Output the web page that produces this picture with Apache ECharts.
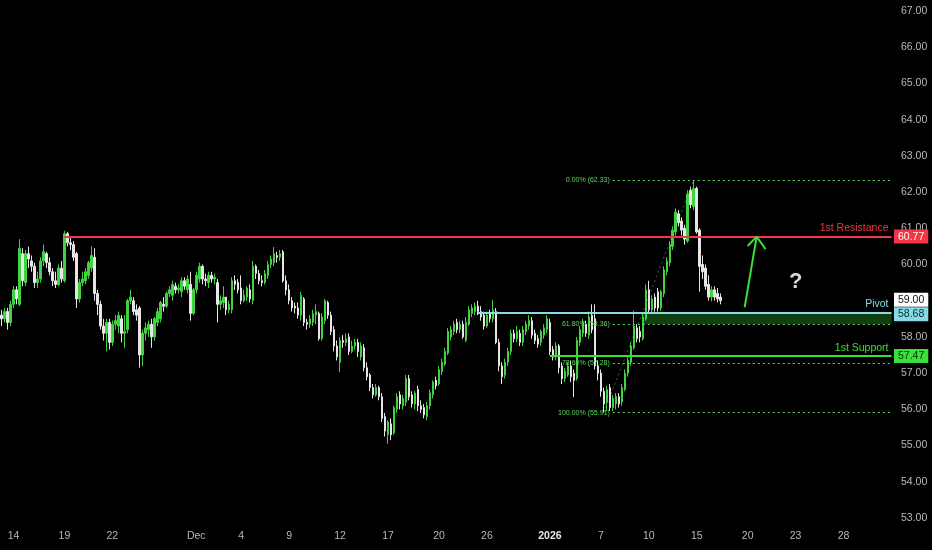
<!DOCTYPE html>
<html><head><meta charset="utf-8">
<script src="https://cdn.jsdelivr.net/npm/echarts@6/dist/echarts.min.js"></script>
<style>html,body{margin:0;padding:0;background:#000;}#c{width:932px;height:550px;}</style>
</head><body><div id="c"></div>
<script>
// 4H candles (open, close, low, high)
const openP = [58.6,58.5,58.7,58.4,58.9,59.3,58.9,60.3,59.5,60.3,60.1,59.95,59.5,59.6,60.1,60.3,60.05,59.8,59.55,59.45,59.9,59.55,60.85,60.6,60.55,60.3,59.05,59.5,59.55,59.7,59.9,60.2,59.2,58.9,58.3,58.1,58.4,57.85,58.35,58.3,58.5,58.1,58.2,59.0,59.0,58.75,58.8,57.5,58.1,58.2,58.35,58.0,58.4,58.5,58.9,58.85,59.2,59.15,59.4,59.3,59.25,59.55,59.3,59.45,58.65,59.3,59.6,59.95,59.6,59.5,59.7,59.6,59.5,58.9,58.95,59.1,58.75,58.75,59.55,59.5,59.35,59.0,59.1,59.3,59.0,59.95,59.75,59.55,59.5,59.7,60.0,60.05,60.25,60.2,60.35,59.55,59.3,59.0,58.85,58.8,58.6,59.05,58.4,58.35,58.4,58.6,58.65,57.95,58.45,58.95,58.6,58.2,57.75,57.3,57.9,57.85,58.0,57.6,57.75,57.85,57.45,57.7,57.15,56.95,56.6,56.4,56.6,56.35,55.8,55.3,55.6,55.35,56.0,56.4,56.1,56.2,56.85,56.4,56.15,56.55,56.1,56.05,55.8,56.1,56.4,56.8,56.7,57.05,57.25,57.55,58.0,58.15,58.4,58.2,58.35,57.9,58.35,58.65,58.7,58.85,58.7,58.6,58.3,58.65,58.5,58.7,57.85,57.2,56.95,57.3,57.6,58.1,57.95,58.1,57.85,58.15,58.3,58.45,58.1,57.95,57.85,58.05,58.2,58.4,57.65,57.45,57.75,57.2,56.85,56.95,57.2,57.0,56.85,57.85,58.1,58.35,58.05,58.6,58.5,57.2,57.0,56.5,56.2,56.6,56.05,56.15,56.35,56.2,56.55,57.0,57.3,57.7,58.25,58.15,57.95,58.5,59.3,58.75,59.1,59.25,58.8,59.2,59.8,60.05,60.5,60.9,61.4,61.2,61.0,60.65,62.05,61.6,62.1,60.95,60.0,59.9,59.45,59.1,59.3,59.2,59.1];
const closeP = [58.5,58.7,58.4,58.9,59.3,59.05,60.45,59.55,60.3,60.15,59.95,59.5,59.6,60.1,60.35,60.05,59.8,59.55,59.45,59.9,59.6,60.85,60.6,60.55,60.2,59.05,59.5,59.6,59.8,60.05,60.25,59.2,58.9,58.3,58.1,58.4,57.85,58.35,58.45,58.6,58.1,58.15,59.0,59.1,58.7,58.6,57.5,58.1,58.25,58.35,58.0,58.5,58.7,58.95,58.85,59.2,59.3,59.45,59.3,59.35,59.55,59.4,59.6,58.65,59.3,59.7,59.95,59.6,59.55,59.7,59.6,59.65,58.9,59.0,59.1,58.75,58.9,59.55,59.45,59.3,59.0,59.15,59.35,59.05,59.95,59.75,59.55,59.5,59.75,60.0,60.15,60.3,60.2,60.3,59.55,59.3,59.0,58.8,58.8,58.6,59.15,58.4,58.35,58.5,58.65,58.7,57.95,58.55,59.0,58.6,58.15,57.75,57.45,57.9,57.85,57.95,57.6,57.75,57.85,57.6,57.75,57.15,56.9,56.6,56.4,56.6,56.35,55.75,55.4,55.65,55.3,56.05,56.35,56.15,56.3,56.85,56.35,56.15,56.45,56.1,56.0,55.85,56.1,56.45,56.75,56.65,57.1,57.3,57.6,58.15,58.2,58.35,58.2,58.35,58.0,58.4,58.75,58.8,58.85,58.7,58.55,58.3,58.6,58.5,58.75,57.85,57.2,56.9,57.3,57.6,58.1,57.95,58.15,57.85,58.2,58.35,58.45,58.05,57.9,57.8,58.15,58.25,58.5,57.6,57.45,57.75,57.15,56.85,57.05,57.2,56.9,56.8,57.9,58.2,58.4,58.1,58.55,58.2,57.2,57.0,56.5,56.15,56.55,56.05,56.3,56.35,56.15,56.6,57.0,57.35,57.75,58.3,57.95,58.0,58.55,59.3,58.75,59.05,58.8,58.8,59.25,59.85,60.1,60.55,60.95,61.45,61.15,60.95,60.7,61.95,61.65,62.1,60.9,59.95,59.8,59.4,59.1,59.3,59.1,59.05,59.0];
const lowP = [58.3,58.4,58.2,58.3,58.8,58.9,58.85,59.4,59.4,59.9,59.8,59.35,59.35,59.5,59.95,59.9,59.7,59.4,59.35,59.4,59.5,59.5,60.5,60.4,60.1,58.8,58.95,59.4,59.45,59.6,59.8,59.0,58.6,58.2,57.9,57.6,57.65,57.75,58.2,58.1,57.85,57.7,58.1,58.9,58.6,58.45,57.15,57.2,57.9,58.0,57.7,57.9,58.3,58.4,58.7,58.8,59.1,59.0,59.2,59.2,59.1,59.3,59.2,58.45,58.6,59.2,59.5,59.45,59.4,59.35,59.5,59.45,58.4,58.75,58.8,58.6,58.65,58.65,59.3,59.2,58.9,58.95,59.0,58.95,58.9,59.6,59.45,59.4,59.45,59.6,59.9,59.95,60.05,60.1,59.5,59.15,58.9,58.7,58.65,58.5,58.45,58.3,58.2,58.25,58.3,58.35,57.9,57.9,58.35,58.5,58.05,57.6,57.35,57.03,57.7,57.75,57.5,57.55,57.65,57.45,57.35,57.05,56.8,56.5,56.3,56.35,56.25,55.65,55.25,55.05,55.15,55.3,55.9,56.0,56.0,56.1,56.25,56.05,56.0,55.95,55.9,55.75,55.7,56.0,56.3,56.55,56.65,56.95,57.2,57.5,57.9,58.05,58.1,58.1,57.95,57.85,58.3,58.55,58.6,58.6,58.45,58.2,58.25,58.4,58.4,57.8,57.05,56.7,56.85,57.2,57.5,57.85,57.85,57.75,57.75,58.05,58.2,57.95,57.8,57.7,57.75,57.95,58.1,57.5,57.35,57.35,57.0,56.7,56.75,56.9,56.75,56.34,56.8,57.75,58.0,58.0,57.95,58.1,57.1,56.8,56.35,55.91,55.95,55.95,55.95,56.0,56.05,56.1,56.5,56.9,57.2,57.65,57.85,57.85,57.9,58.45,58.65,58.65,58.7,58.7,58.72,59.1,59.7,59.95,60.4,60.8,61.05,60.8,60.55,60.6,61.55,61.5,60.85,59.25,59.6,59.3,59.0,58.98,59.0,58.95,58.9];
const highP = [58.75,58.8,58.8,59.0,59.4,59.4,60.7,60.45,60.4,60.5,60.25,60.05,59.8,60.2,60.55,60.35,60.2,59.9,59.8,60.0,60.1,60.93,60.9,60.75,60.65,60.35,59.6,59.8,59.9,60.1,60.5,60.45,59.3,59.0,58.5,58.5,58.5,58.45,58.6,58.7,58.6,58.6,59.05,59.3,59.1,58.9,58.85,58.2,58.4,58.45,58.5,58.55,58.8,59.0,59.1,59.25,59.4,59.55,59.5,59.45,59.65,59.65,59.7,59.8,59.35,59.8,60.05,60.0,59.75,59.8,59.8,59.75,59.6,59.15,59.4,59.1,59.0,59.65,59.7,59.6,59.7,59.3,59.4,59.45,60.1,60.0,59.85,59.7,59.85,60.1,60.25,60.48,60.35,60.4,60.4,59.7,59.45,59.1,58.95,58.95,59.25,59.1,58.5,58.6,58.75,58.9,58.7,58.65,59.05,59.0,58.7,58.3,57.9,58.0,58.05,58.1,58.1,57.9,57.95,57.95,57.85,57.8,57.3,57.0,56.7,56.7,56.65,56.45,55.9,55.7,55.75,56.1,56.45,56.5,56.4,56.95,56.95,56.5,56.5,56.65,56.25,56.15,56.2,56.55,56.8,56.9,57.2,57.4,57.7,58.25,58.3,58.45,58.5,58.45,58.45,58.55,58.85,58.9,58.95,59.0,58.85,58.7,58.7,58.75,59.02,58.8,57.95,57.3,57.4,57.7,58.2,58.2,58.3,58.2,58.3,58.45,58.6,58.55,58.2,58.05,58.2,58.35,58.6,58.5,57.75,57.85,57.8,57.3,57.15,57.3,57.35,57.1,58.0,58.3,58.5,58.45,58.7,58.9,58.9,57.35,57.1,56.6,56.65,56.7,56.4,56.45,56.45,56.7,57.1,57.45,57.85,58.72,58.35,58.3,58.65,59.45,59.55,59.15,59.2,59.35,59.3,59.95,60.2,60.65,61.05,61.55,61.5,61.3,61.1,62.05,62.15,62.33,62.15,61.0,60.25,60.0,59.7,59.4,59.4,59.35,59.2];

// x-axis ticks (category index -> label)
const tickIdx  = [4, 21, 37, 65, 80, 96, 113, 129, 146, 162, 183, 200, 216, 232, 249, 265, 281];
const tickText = ['14','19','22','Dec','4','9','12','17','20','26','2026','7','10','15','20','23','28'];
const slotCount = 298; // bars + empty future slots

// levels
const resistance = 60.77;
const pivot = 58.68;
const support = 57.47;
const lastPrice = 59.00;
const fibLevels = [62.33, 58.36, 57.28, 55.91];
const fibText = ['0.00% (62.33)', '61.80% (58.36)', '78.60% (57.28)', '100.00% (55.91)'];

const FONT = 'Liberation Sans';
const RED = '#f23645', CYAN = '#86dbe8', GREEN = '#39e039', FIBG = '#5fd65f';
const UP = '#3fd43f', DOWN = '#e6e6e6';

const cats = Array.from({length: slotCount}, (_, i) => String(i));
const candles = openP.map((o, i) => [o, closeP[i], lowP[i], highP[i]]);
const tickMap = new Map(tickIdx.map((v, i) => [v, tickText[i]]));
const last = slotCount - 1;

const tag = (v, bg, fg, off) => ({
  yAxis: v, lineStyle: {color: 'rgba(0,0,0,0)', width: 1, type: 'solid'},
  label: {show: true, position: 'end', distance: 1, formatter: v.toFixed(2),
    backgroundColor: bg, color: fg, padding: [2, 4, 1, 4], fontSize: 10.5, fontFamily: FONT,
    offset: off || [0, 0]}
});
const levelLine = (start, v, color, text) => ([
  {coord: [start, v], lineStyle: {color: color, width: 2, type: 'solid'},
   label: {show: true, position: 'insideEndTop', formatter: text, color: color, fontSize: 10.5, fontFamily: FONT, distance: 3}},
  {coord: [last, v]}
]);
const fibLines = fibLevels.map((v, i) => ([
  {coord: [204, v], lineStyle: {color: FIBG, width: 1, type: [2, 3]},
   label: {show: true, position: 'start', formatter: fibText[i], color: FIBG, fontSize: 7, fontFamily: FONT, distance: 3}},
  {coord: [last, v]}
]));
const seg = (a, b) => ([
  {coord: a, lineStyle: {color: GREEN, width: 2, type: 'solid'}, label: {show: false}},
  {coord: b}
]);

const chart = echarts.init(document.getElementById('c'), null, {renderer: 'canvas'});
chart.setOption({
  backgroundColor: '#000',
  animation: false,
  textStyle: {fontFamily: FONT},
  grid: {left: 0, right: 39, top: 11, bottom: 32},
  xAxis: {
    type: 'category', data: cats, boundaryGap: true,
    axisLine: {show: false}, axisTick: {show: false}, splitLine: {show: false},
    axisLabel: {
      interval: (i) => tickMap.has(i),
      formatter: (v, i) => { const t = tickMap.get(Number(v)); return t === '2026' ? '{b|2026}' : (t || ''); },
      color: '#b8b8b8', fontSize: 10.5, margin: 13, fontFamily: FONT,
      rich: {b: {fontWeight: 'bold', color: '#e8e8e8', fontSize: 10.5, fontFamily: FONT}}
    }
  },
  yAxis: {
    type: 'value', position: 'right', min: 53, max: 67, interval: 1, scale: true,
    axisLine: {show: false}, axisTick: {show: false}, splitLine: {show: false},
    axisLabel: {formatter: (v) => v.toFixed(2), color: '#b8b8b8', fontSize: 10.5, margin: 8, fontFamily: FONT}
  },
  series: [{
    type: 'candlestick',
    data: candles,
    barWidth: 2,
    itemStyle: {color: UP, color0: DOWN, borderColor: UP, borderColor0: DOWN, borderWidth: 1},
    markArea: {
      silent: true,
      data: [[{coord: [214, pivot], itemStyle: {color: 'rgba(40,140,40,0.45)'}}, {coord: [last, fibLevels[1]]}]]
    },
    markLine: {
      silent: true, symbol: ['none', 'none'], animation: false,
      data: [
        [{coord: [201, fibLevels[3]], lineStyle: {color: 'rgba(140,210,140,0.45)', width: 1, type: [2, 3]}, label: {show: false}},
         {coord: [231, fibLevels[0]]}],
        ...fibLines,
        levelLine(21, resistance, RED, '1st Resistance'),
        levelLine(159, pivot, CYAN, 'Pivot'),
        levelLine(183, support, GREEN, '1st Support'),
        seg([248.4, 58.82], [252.3, 60.77]),
        seg([248.6, 60.51], [252.3, 60.77]),
        seg([255.1, 60.42], [252.3, 60.77]),
        tag(resistance, RED, '#ffffff'),
        tag(lastPrice, '#ffffff', '#111111', [0, -1]),
        tag(pivot, CYAN, '#0b2a30', [0, 2]),
        tag(support, GREEN, '#0a2a0a')
      ]
    },
    markPoint: {
      silent: true, symbol: 'circle', symbolSize: 0,
      data: [{coord: [265, 59.52], label: {show: true, formatter: '?', fontSize: 22, fontWeight: 'bold', color: '#d6d6d6', fontFamily: FONT}}]
    }
  }]
});
</script></body></html>
